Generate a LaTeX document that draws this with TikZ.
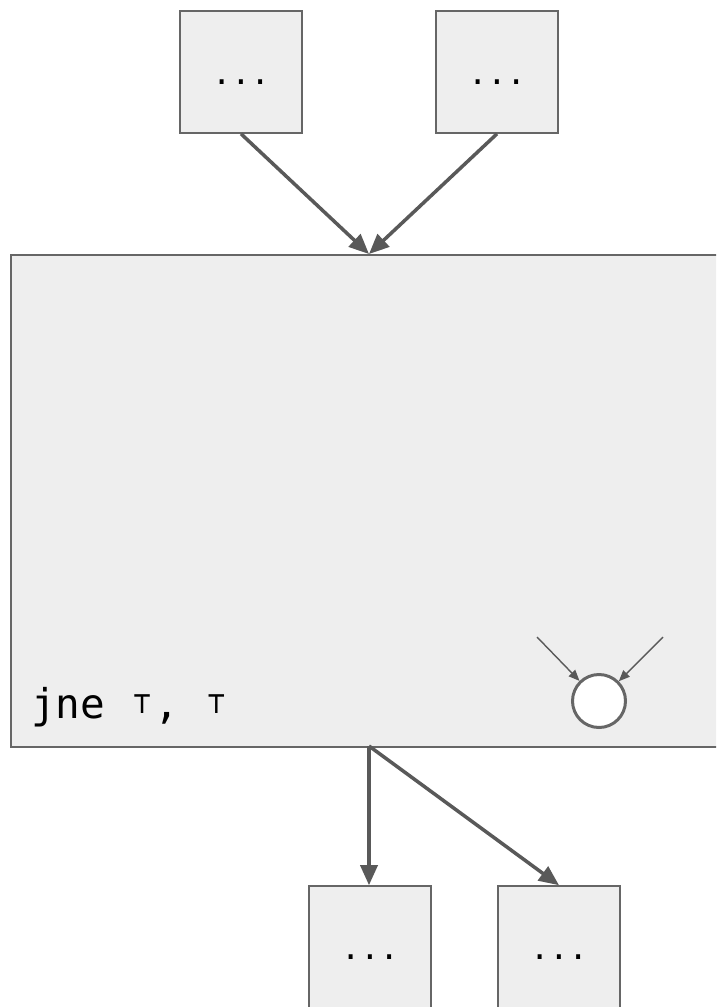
\documentclass[tikz,border=0pt]{standalone}
\usepackage{fontspec}
\setmonofont{DejaVu Sans Mono}
\usetikzlibrary{arrows.meta}
\definecolor{boxfill}{HTML}{EEEEEE}
\definecolor{boxline}{HTML}{666666}
\definecolor{edgecol}{HTML}{595959}
\newcommand{\topsym}{\makebox[0.602em]{\raisebox{5pt}{\fontsize{30}{30}\selectfont ⊤}}}
\begin{document}
\begin{tikzpicture}[x=1pt,y=-1pt,
  blk/.style={draw=boxline,fill=boxfill,line width=1.6pt,minimum width=122pt,minimum height=122pt,inner sep=0pt,
    font=\ttfamily\fontsize{32}{32}\selectfont},
  edge/.style={draw=edgecol,line width=3.5pt,-{Triangle[length=20pt,width=17pt]}},
  thin edge/.style={draw=edgecol,line width=1.4pt,-{Triangle[length=11pt,width=9pt]}}]
\useasboundingbox (0,0) rectangle (716,1007);
\clip (0,0) rectangle (716,1007);
\fill[white] (0,0) rectangle (716,1007);
% main block, runs past the right edge
\node[draw=boxline,fill=boxfill,line width=1.6pt,minimum width=720pt,minimum height=492pt,inner sep=0pt,anchor=north west] (main) at (10,254) {};
% predecessors
\node[blk] (p1) at (241,72) {\smash{\raisebox{-12pt}{...}}};
\node[blk] (p2) at (497,72) {\smash{\raisebox{-12pt}{...}}};
% successors
\node[blk] (s1) at (370,947) {\smash{\raisebox{-12pt}{...}}};
\node[blk] (s2) at (559,947) {\smash{\raisebox{-12pt}{...}}};
% instruction label
\node[anchor=base west,inner sep=0pt,font=\ttfamily\fontsize{41}{41}\selectfont] (ins) at (31,718)
  {jne \topsym,\ \topsym};
% phi node
\node[circle,draw=boxline,fill=white,line width=3pt,minimum size=53pt,inner sep=0pt] (phi) at (599,701) {};
\coordinate (a1) at (537,637);
\coordinate (a2) at (663,637);
\draw[thin edge] (a1) -- (phi);
\draw[thin edge] (a2) -- (phi);
% edges
\coordinate (in) at (369,254);
\coordinate (out) at (369,746);
\draw[edge] (p1.south) -- (in);
\draw[edge] (p2.south) -- (in);
\draw[edge] (out) -- (out |- s1.north);
\draw[edge] (out) -- (s2.north);
\end{tikzpicture}
\end{document}
